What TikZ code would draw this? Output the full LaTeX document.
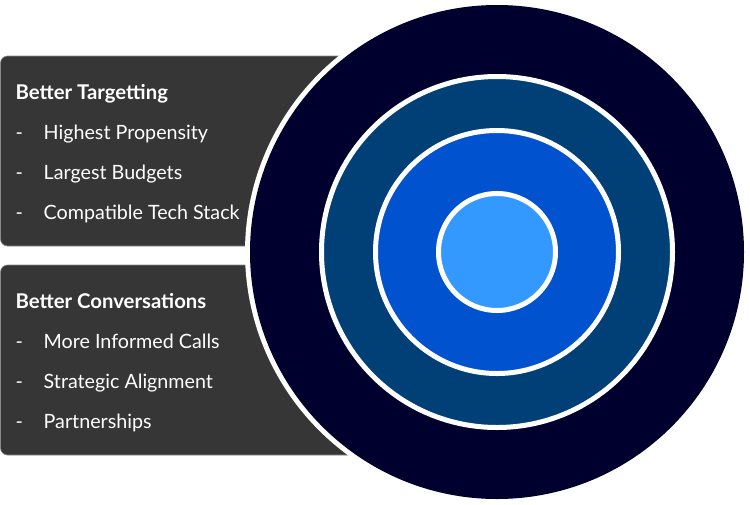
\documentclass[tikz,border=0pt]{standalone}
\usepackage{fontspec}
\setmainfont{Lato}
\usetikzlibrary{math}
\definecolor{boxgrey}{HTML}{363636}
\definecolor{boxedge}{HTML}{8A8A8A}
\definecolor{ringnavy}{HTML}{00002E}
\definecolor{ringteal}{HTML}{004077}
\definecolor{ringblue}{HTML}{0052CE}
\definecolor{ringsky}{HTML}{3399FF}
\tikzset{
	% ------- custom
	panel/.style={
		fill=boxgrey,
		draw=boxedge,
		line width=0.6pt,
		rounded corners=7pt,
	},
	ring/.style={
		draw=white,
		line width=5pt,
	},
	heading/.style={
		anchor=base west,
		inner sep=0pt,
		text=white,
		font=\fontsize{20.3}{20.3}\selectfont\bfseries,
	},
	item/.style={
		anchor=base west,
		inner sep=0pt,
		text=white,
		font=\fontsize{19.7}{19.7}\selectfont,
	},
}
\begin{document}
\begin{tikzpicture}[x=1pt,y=-1pt]

% parameters %{{{2

	\tikzmath{
		\radiusa = 247;
		\radiusb = 175.5;
		\radiusc = 121.5;
		\radiusd = 58.5;
	}

	\useasboundingbox (0,0) rectangle (750,504);

% coordinates %{{{2

	\coordinate (O) at (497,252);

% panels %{{{2

	\draw[panel] (0.5,56) rectangle (400,246);
	\draw[panel] (0.5,265) rectangle (400,455);

% circles %{{{2

	\fill[white] (O) circle (252);
	\fill[ringnavy] (O) circle (\radiusa);
	\draw[ring, fill=ringteal] (O) circle (\radiusb);
	\draw[ring, fill=ringblue] (O) circle (\radiusc);
	\draw[ring, fill=ringsky] (O) circle (\radiusd);

% first panel labels %{{{2

	\node[heading] (targetting) at (15.5,99) {Better Targetting};

	\node[item] (dasha) at (15.5,139) {-};
	\node[item] (propensity) at (43.5,139) {Highest Propensity};

	\node[item] (dashb) at (15.5,179) {-};
	\node[item] (budgets) at (43.5,179) {Largest Budgets};

	\node[item] (dashc) at (15.5,219) {-};
	\node[item] (stack) at (43.5,219) {Compatible Tech Stack};

% second panel labels %{{{2

	\node[heading] (conversations) at (15.5,308) {Better Conversations};

	\node[item] (dashd) at (15.5,348) {-};
	\node[item] (calls) at (43.5,348) {More Informed Calls};

	\node[item] (dashe) at (15.5,388) {-};
	\node[item] (alignment) at (43.5,388) {Strategic Alignment};

	\node[item] (dashf) at (15.5,428) {-};
	\node[item] (partnerships) at (43.5,428) {Partnerships};

% closing %{{{2

\end{tikzpicture}
\end{document}
